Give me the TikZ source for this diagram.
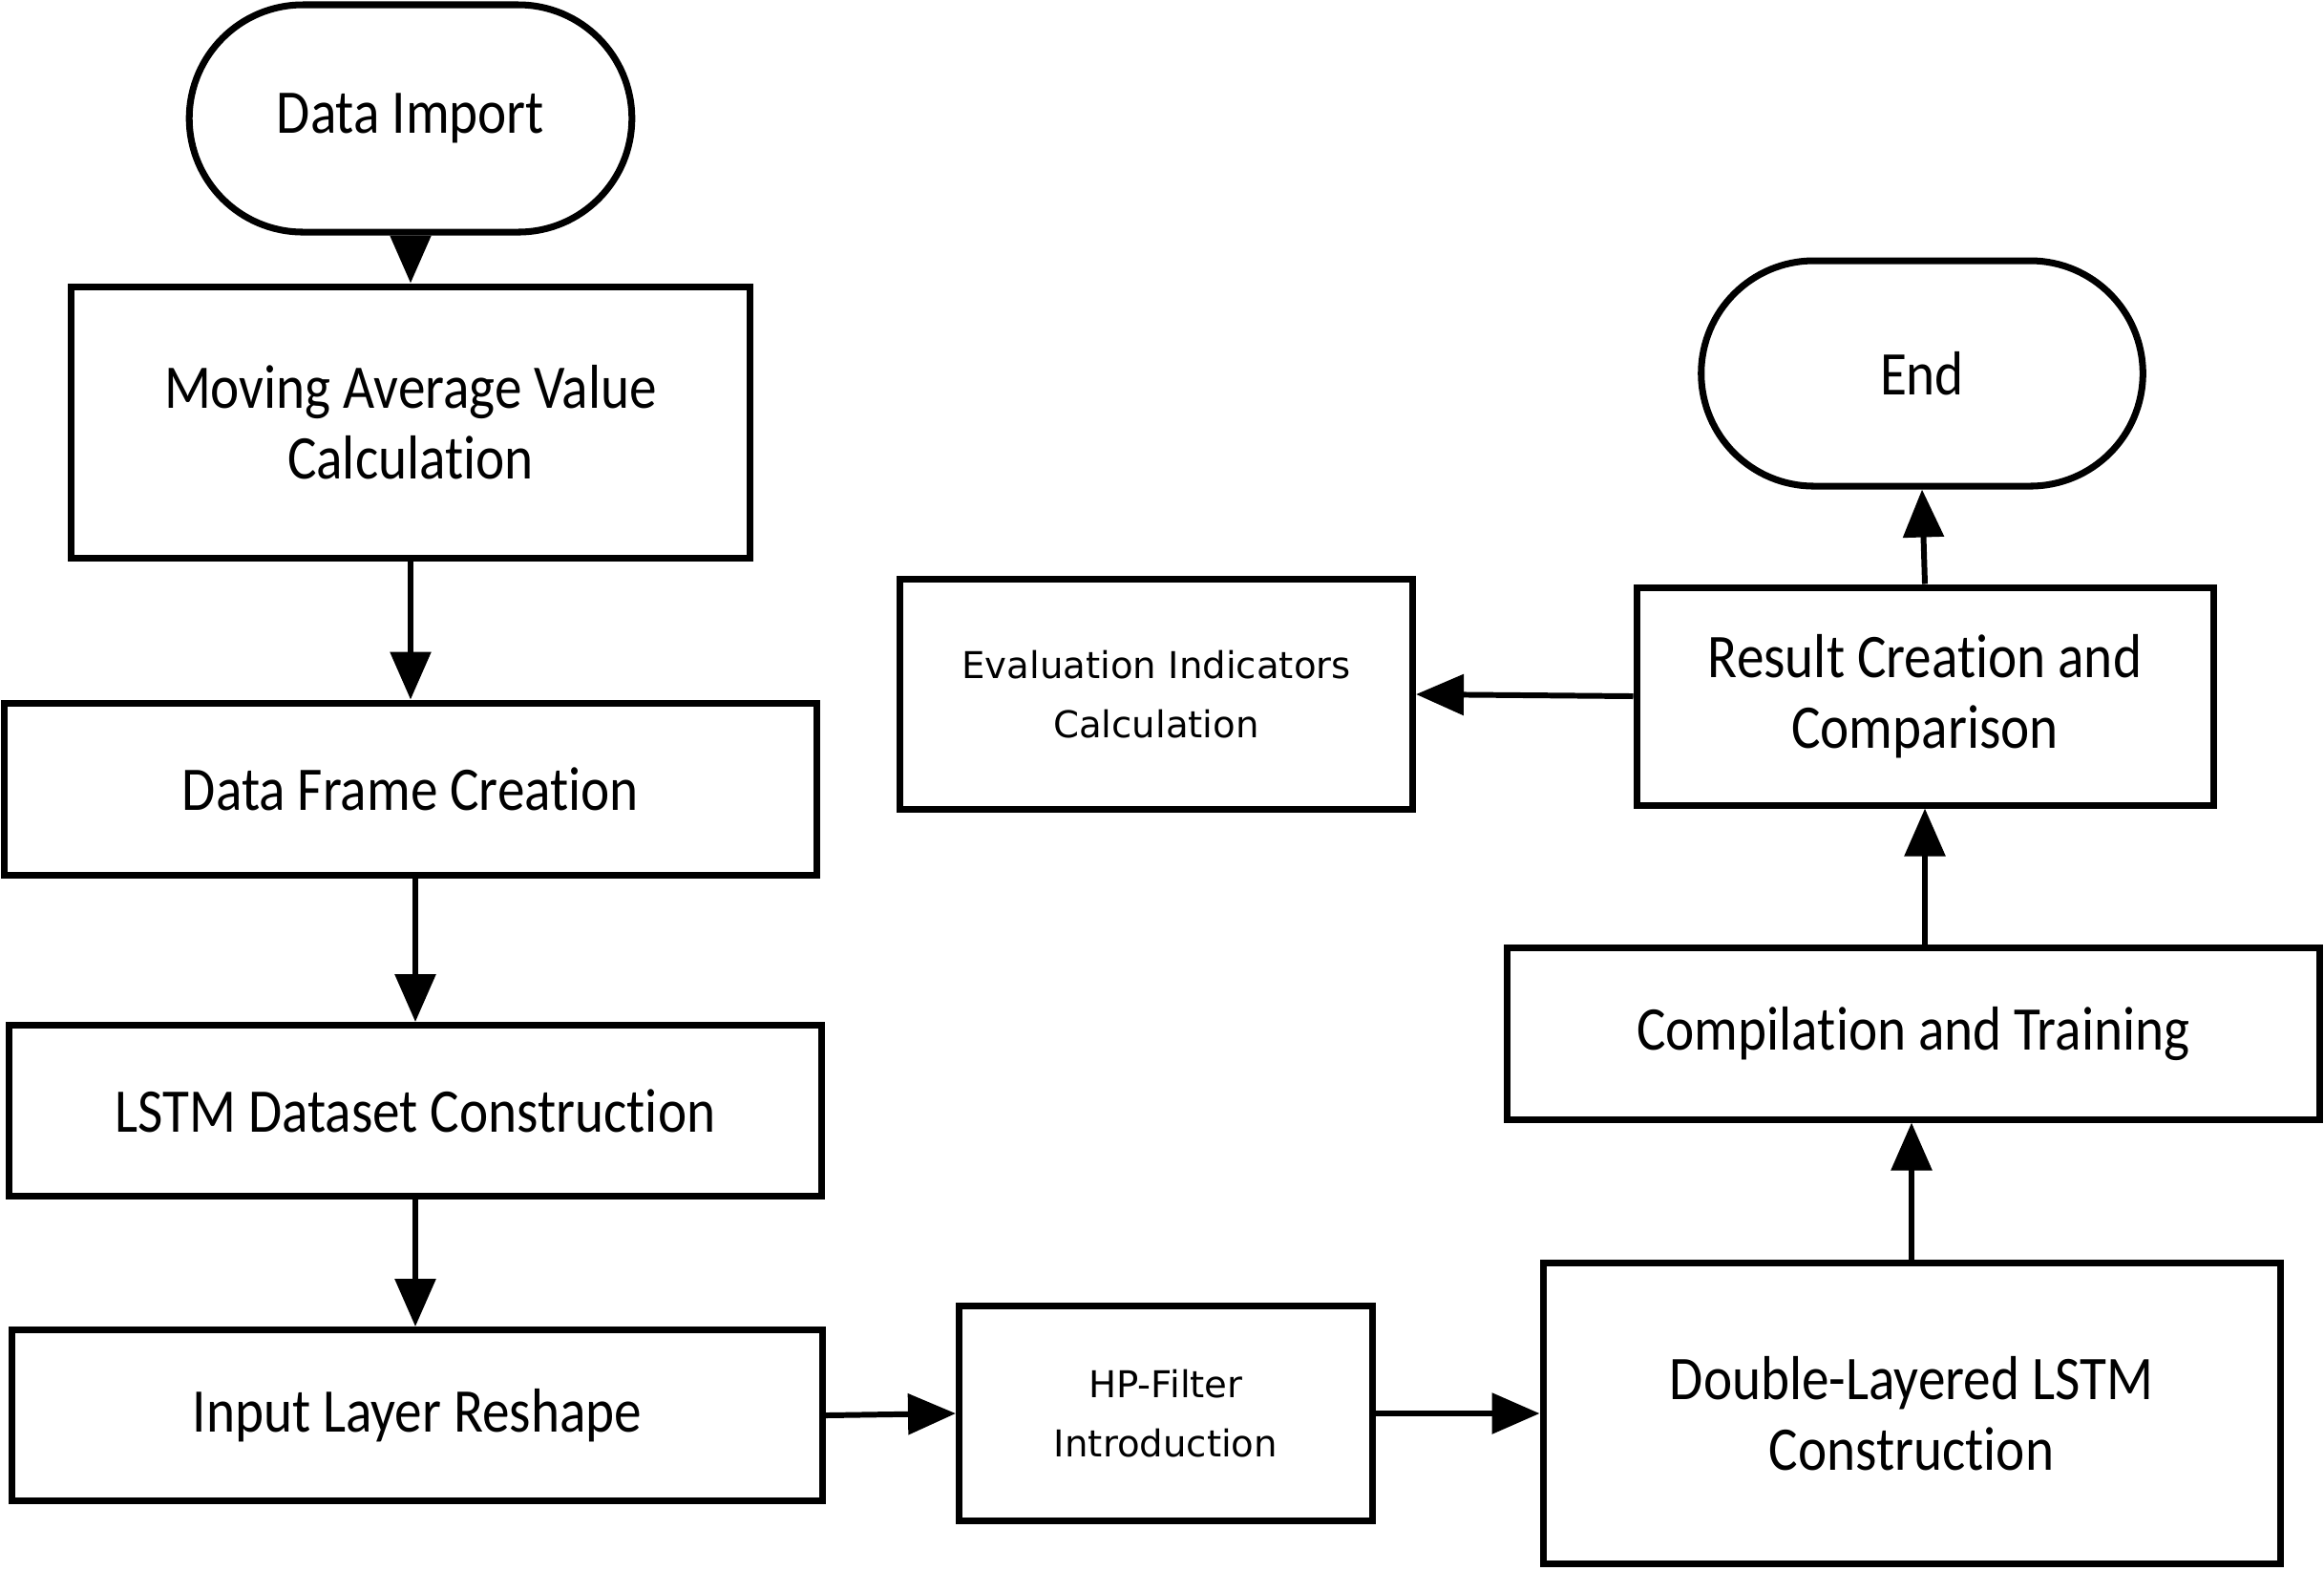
\documentclass[tikz,border=0pt]{standalone}
\usepackage{fontspec}
\setmainfont{Carlito}[FakeStretch=0.88,RawFeature=-liga,RawFeature=-clig,RawFeature=-calt,RawFeature=-dlig]
\newfontfamily\widefont{DejaVu Sans}
\usepackage{tikz}
\usetikzlibrary{shapes.misc,arrows.meta}
\tikzset{
    % 起止框
    terminal/.style={
        rounded rectangle,
        draw,
        line width=2pt,
        minimum width=4.87cm,
        minimum height=2.38cm,
        font=\fontsize{18.5}{21}\selectfont
    },
    % 处理框
    procbox/.style={
        rectangle,
        draw,
        line width=2pt,
        align=center,
        inner sep=0pt,
        font=\fontsize{18.5}{21}\selectfont
    },
    smallbox/.style={
        procbox,
        font=\widefont\fontsize{11}{17.6}\selectfont
    },
    flowarrow/.style={
        line width=1.7pt,
        black,
        -{Triangle[length=5mm, width=4.2mm]}
    }
}

\begin{document}
\begin{tikzpicture}
    \useasboundingbox[fill=white] (0,0) rectangle (24.34,-16.44);
    % ===================== left column =====================
    \node[terminal] (imp) at (4.30,-1.24) {Data Import};
    \node[procbox, minimum width=7.11cm, minimum height=2.84cm] (mavg) at (4.30,-4.42) {Moving Average Value\\Calculation};
    \node[procbox, minimum width=8.51cm, minimum height=1.80cm] (dfc) at (4.30,-8.26) {Data Frame Creation};
    \node[procbox, minimum width=8.51cm, minimum height=1.79cm] (lds) at (4.35,-11.63) {LSTM Dataset Construction};
    \node[procbox, minimum width=8.49cm, minimum height=1.79cm] (ilr) at (4.37,-14.82) {Input Layer Reshape};

    % ===================== middle =====================
    \node[smallbox, minimum width=4.33cm, minimum height=2.25cm] (hp) at (12.21,-14.80) {HP-Filter\\Introduction};
    \node[smallbox, minimum width=5.37cm, minimum height=2.41cm] (eic) at (12.11,-7.27) {Evaluation Indicators\\Calculation};

    % ===================== right column =====================
    \node[procbox, minimum width=7.72cm, minimum height=3.15cm] (dl) at (20.02,-14.80) {Double-Layered LSTM\\Construction};
    \node[procbox, minimum width=8.51cm, minimum height=1.80cm] (ct) at (20.04,-10.82) {Compilation and Training};
    \node[procbox, minimum width=6.04cm, minimum height=2.28cm] (rcc) at (20.16,-7.29) {Result Creation and\\Comparison};
    \node[terminal, minimum width=4.86cm, minimum height=2.36cm] (fin) at (20.13,-3.91) {End};

    %arrows
    \draw[flowarrow] (imp.south) -- (mavg.north);
    \draw[flowarrow] (mavg.south) -- (dfc.north);
    \draw[flowarrow] (lds.north |- dfc.south) -- (lds.north);
    \draw[flowarrow] (lds.south) -- (lds.south |- ilr.north);
    \draw[flowarrow] (ilr.east) -- (hp.west);
    \draw[flowarrow] (hp.east) -- (dl.west);
    \draw[flowarrow] (dl.north) -- (dl.north |- ct.south);
    \draw[flowarrow] (rcc.south |- ct.north) -- (rcc.south);
    \draw[flowarrow] (rcc.north) -- (fin.south);
    \draw[flowarrow] (rcc.west) -- (eic.east);
\end{tikzpicture}
\end{document}
